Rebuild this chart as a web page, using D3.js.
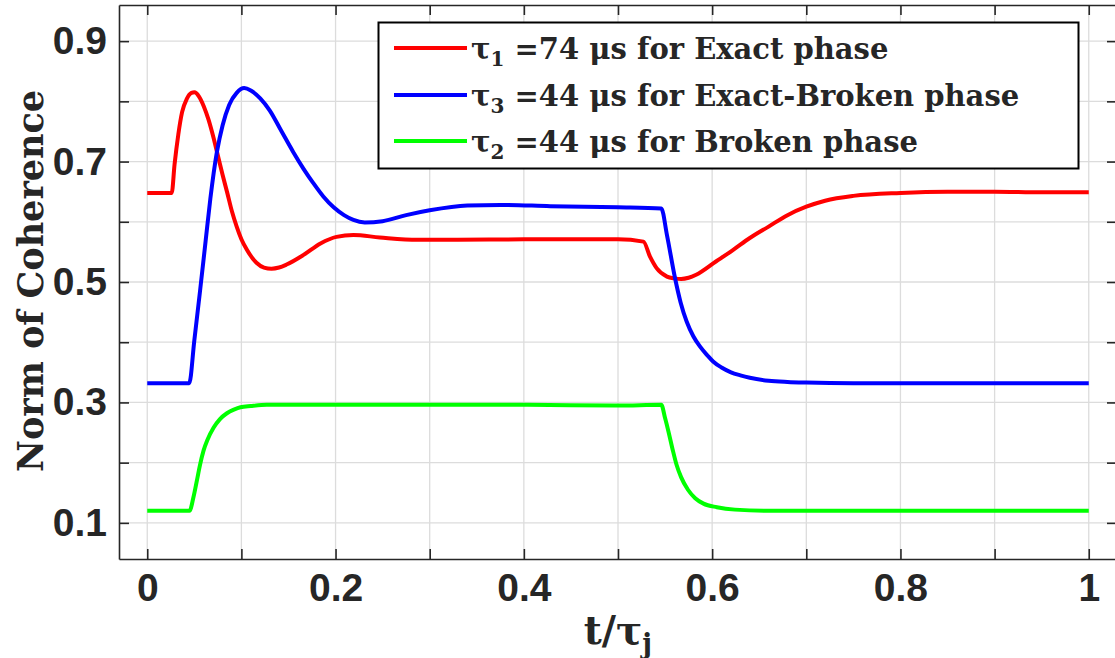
<!DOCTYPE html>
<html>
<head>
<meta charset="utf-8">
<script src="https://cdn.jsdelivr.net/npm/d3@7"></script>
<style>
  html, body { margin: 0; padding: 0; background: #ffffff; }
  svg { display: block; }
</style>
</head>
<body>
<svg id="chart" width="1115" height="658"></svg>
<script>
// ---------------- data ----------------
const legendSub = ["1", "3", "2"];
const legendRest = [" =74 μs for Exact phase", " =44 μs for Exact-Broken phase", " =44 μs for Broken phase"];
const seriesColors = ["#ff0000", "#0000ff", "#00ff00"];

const tRed = [0, 0.026, 0.029, 0.033, 0.037, 0.042, 0.047, 0.050, 0.055, 0.060, 0.065, 0.070, 0.075, 0.080, 0.085, 0.090, 0.095, 0.100, 0.106, 0.116, 0.124, 0.132, 0.140, 0.148, 0.166, 0.184, 0.201, 0.219, 0.247, 0.287, 0.33, 0.40, 0.45, 0.50, 0.527, 0.534, 0.541, 0.552, 0.560, 0.567, 0.575, 0.583, 0.604, 0.622, 0.64, 0.66, 0.68, 0.70, 0.72, 0.75, 0.80, 0.85, 0.90, 0.95, 1.0];
const vRed = [0.648, 0.648, 0.695, 0.745, 0.782, 0.804, 0.814, 0.815, 0.808, 0.792, 0.770, 0.742, 0.710, 0.678, 0.648, 0.617, 0.592, 0.571, 0.553, 0.532, 0.524, 0.522, 0.524, 0.529, 0.545, 0.564, 0.575, 0.578, 0.574, 0.570, 0.570, 0.571, 0.571, 0.571, 0.567, 0.542, 0.523, 0.509, 0.506, 0.505, 0.507, 0.512, 0.534, 0.553, 0.573, 0.592, 0.611, 0.625, 0.635, 0.643, 0.648, 0.650, 0.650, 0.649, 0.649];

const tBlue = [0, 0.0446, 0.050, 0.056, 0.062, 0.067, 0.074, 0.080, 0.087, 0.095, 0.103, 0.110, 0.120, 0.130, 0.142, 0.155, 0.166, 0.176, 0.187, 0.198, 0.209, 0.219, 0.231, 0.25, 0.275, 0.30, 0.34, 0.375, 0.428, 0.50, 0.546, 0.552, 0.5605, 0.5665, 0.573, 0.580, 0.587, 0.595, 0.601, 0.61, 0.62, 0.63, 0.64, 0.66, 0.68, 0.70, 0.75, 0.85, 1.0];
const vBlue = [0.332, 0.332, 0.403, 0.484, 0.568, 0.638, 0.716, 0.760, 0.794, 0.814, 0.822, 0.818, 0.805, 0.785, 0.752, 0.716, 0.688, 0.665, 0.642, 0.624, 0.611, 0.603, 0.599, 0.601, 0.611, 0.619, 0.627, 0.628, 0.626, 0.624, 0.622, 0.578, 0.507, 0.466, 0.434, 0.410, 0.393, 0.378, 0.368, 0.358, 0.350, 0.345, 0.341, 0.336, 0.334, 0.333, 0.332, 0.332, 0.332];

const tGreen = [0, 0.0449, 0.049, 0.0527, 0.056, 0.0598, 0.064, 0.0704, 0.077, 0.0846, 0.092, 0.099, 0.11, 0.127, 0.20, 0.30, 0.40, 0.50, 0.546, 0.550, 0.5537, 0.558, 0.5621, 0.567, 0.5743, 0.582, 0.5908, 0.605, 0.6242, 0.666, 0.75, 1.0];
const vGreen = [0.120, 0.120, 0.142, 0.170, 0.196, 0.220, 0.238, 0.258, 0.272, 0.282, 0.288, 0.292, 0.294, 0.296, 0.296, 0.296, 0.296, 0.295, 0.296, 0.274, 0.251, 0.222, 0.197, 0.176, 0.155, 0.141, 0.132, 0.126, 0.122, 0.120, 0.120, 0.120];

const xTicks = [0, 0.1, 0.2, 0.3, 0.4, 0.5, 0.6, 0.7, 0.8, 0.9, 1.0];
const xTickLabels = ["0", "", "0.2", "", "0.4", "", "0.6", "", "0.8", "", "1"];
const yTicks = [0.1, 0.2, 0.3, 0.4, 0.5, 0.6, 0.7, 0.8, 0.9];
const yTickLabels = ["0.1", "", "0.3", "", "0.5", "", "0.7", "", "0.9"];

// ---------------- layout ----------------
const pLeft = 119, pTop = 5, pRight = 1117, pBottom = 559;
const axisColor = "#262626";
const gridColor = "#dcdcdc";
const tickFont = "'Liberation Sans', Arial, sans-serif";
const serifFont = "'DejaVu Serif', serif";

const svg = d3.select("#chart");
const x = d3.scaleLinear().domain([-0.03, 1.03]).range([pLeft, pRight]);
const y = d3.scaleLinear().domain([0.04, 0.96]).range([pBottom, pTop]);

// grid
const grid = svg.append("g");
grid.selectAll("line.gx").data(xTicks).join("line").attr("class", "gx")
  .attr("x1", d => x(d)).attr("x2", d => x(d))
  .attr("y1", pTop).attr("y2", pBottom)
  .attr("stroke", gridColor).attr("stroke-width", 1.3);
grid.selectAll("line.gy").data(yTicks).join("line").attr("class", "gy")
  .attr("y1", d => y(d)).attr("y2", d => y(d))
  .attr("x1", pLeft).attr("x2", pRight)
  .attr("stroke", gridColor).attr("stroke-width", 1.3);

// series
const series = [
  { t: tRed, v: vRed, c: seriesColors[0] },
  { t: tBlue, v: vBlue, c: seriesColors[1] },
  { t: tGreen, v: vGreen, c: seriesColors[2] }
];
const line = d3.line().x(d => x(d[0])).y(d => y(d[1])).curve(d3.curveMonotoneX);
svg.append("g").selectAll("path").data(series).join("path")
  .attr("d", s => line(s.t.map((t, i) => [t, s.v[i]])))
  .attr("fill", "none")
  .attr("stroke", s => s.c)
  .attr("stroke-width", 4)
  .attr("stroke-linejoin", "round")
  .attr("stroke-linecap", "butt");

// axes (box with inward ticks)
const tl = 10;
const axBottom = d3.axisBottom(x).tickValues(xTicks).tickSizeInner(-tl).tickSizeOuter(0).tickPadding(14)
  .tickFormat((d, i) => xTickLabels[i]);
const axTop = d3.axisTop(x).tickValues(xTicks).tickSizeInner(-tl).tickSizeOuter(0).tickFormat("");
const axLeft = d3.axisLeft(y).tickValues(yTicks).tickSizeInner(-tl).tickSizeOuter(0).tickPadding(12)
  .tickFormat((d, i) => yTickLabels[i]);
const axRight = d3.axisRight(y).tickValues(yTicks).tickSizeInner(-tl).tickSizeOuter(0).tickFormat("");

function style(g) {
  g.select(".domain").attr("stroke", axisColor).attr("stroke-width", 1.6);
  g.selectAll(".tick line").attr("stroke", axisColor).attr("stroke-width", 1.6);
  g.selectAll(".tick text").attr("fill", axisColor)
    .style("font-family", tickFont).style("font-weight", "bold").style("font-size", "39px");
}
svg.append("g").attr("transform", `translate(0,${pBottom})`).call(axBottom).call(style);
svg.append("g").attr("transform", `translate(0,${pTop})`).call(axTop).call(style);
svg.append("g").attr("transform", `translate(${pLeft},0)`).call(axLeft).call(style);
svg.append("g").attr("transform", `translate(${pRight},0)`).call(axRight).call(style);

// axis titles
svg.append("text")
  .attr("transform", `translate(43,281) rotate(-90)`)
  .attr("text-anchor", "middle")
  .attr("fill", axisColor)
  .style("font-family", serifFont).style("font-weight", "bold").style("font-size", "35px")
  .text("Norm of Coherence");

const xt = svg.append("text")
  .attr("x", 618).attr("y", 644)
  .attr("text-anchor", "middle")
  .attr("fill", axisColor)
  .style("font-family", serifFont).style("font-weight", "bold").style("font-size", "39px");
xt.append("tspan").text("t/τ");
xt.append("tspan").attr("dy", 9).style("font-size", "27px").text("j");

// legend
const lg = svg.append("g");
lg.append("rect").attr("x", 378.5).attr("y", 22.5).attr("width", 700).attr("height", 146)
  .attr("fill", "#ffffff").attr("stroke", "#000000").attr("stroke-width", 2);
const rowY = [48, 95, 141];
seriesColors.forEach((c, i) => {
  lg.append("line").attr("x1", 394).attr("x2", 467).attr("y1", rowY[i]).attr("y2", rowY[i])
    .attr("stroke", c).attr("stroke-width", 4);
  const tx = lg.append("text").attr("x", 471).attr("y", rowY[i] + 11)
    .attr("fill", axisColor)
    .style("font-family", serifFont).style("font-weight", "bold").style("font-size", "29px");
  tx.append("tspan").text("τ");
  tx.append("tspan").attr("dy", 7).style("font-size", "20px").text(legendSub[i]);
  tx.append("tspan").attr("dy", -7).text(legendRest[i]);
});
</script>
</body>
</html>
